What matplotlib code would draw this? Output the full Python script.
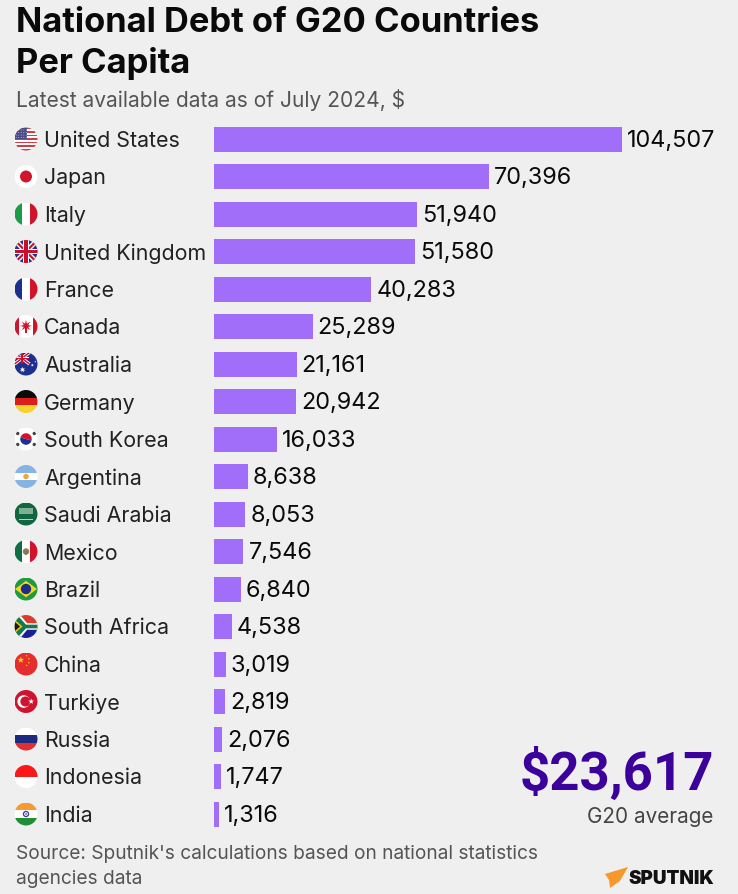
import numpy as np
import matplotlib
matplotlib.use('Agg')
import matplotlib.pyplot as plt
from matplotlib.patches import Circle, Rectangle, Polygon, Wedge
from matplotlib.transforms import Affine2D

countries = ['United States', 'Japan', 'Italy', 'United Kingdom', 'France', 'Canada',
             'Australia', 'Germany', 'South Korea', 'Argentina', 'Saudi Arabia', 'Mexico',
             'Brazil', 'South Africa', 'China', 'Turkiye', 'Russia', 'Indonesia', 'India']
debt = [104507, 70396, 51940, 51580, 40283, 25289, 21161, 20942, 16033, 8638,
        8053, 7546, 6840, 4538, 3019, 2819, 2076, 1747, 1316]
average = 23617

W, H = 738, 894
BG = '#efefef'
plt.rcParams['font.family'] = ['Inter', 'DejaVu Sans']

fig = plt.figure(figsize=(W / 100, H / 100), dpi=100, facecolor=BG)

# Bars: axes placed so that 0 is at x=214px and the maximum at x=622px
row_h = 37.5
top = 139 - row_h / 2
ax = fig.add_axes([214 / W, 1 - (top + row_h * 19) / H, (622 - 214) / W, row_h * 19 / H])
ax.set_facecolor('none')
ax.barh(range(19), debt, height=25 / row_h, color='#a06ef9', linewidth=0)
ax.set_xlim(0, max(debt))
ax.set_ylim(18.5, -0.5)
ax.axis('off')
for i, v in enumerate(debt):
    ax.annotate(f'{v:,}', (v, i), xytext=(3.6, -1.4), textcoords='offset points', va='center',
                ha='left', fontsize=16.9, color='#0a0a0a', annotation_clip=False)

# Overlay in pixel coordinates for text and flags
ov = fig.add_axes([0, 0, 1, 1])
ov.set_xlim(0, W)
ov.set_ylim(H, 0)
ov.axis('off')
ov.patch.set_alpha(0)


def star(cx, cy, r, n=5, rot=90):
    a = np.radians(rot + np.arange(2 * n) * 180 / n)
    rr = np.where(np.arange(2 * n) % 2 == 0, r, r * 0.4)
    return np.c_[cx + rr * np.cos(a), cy + rr * np.sin(a)]


class Flag:
    def __init__(self, cy):
        self.tr = Affine2D().scale(11.5, -11.5).translate(26, cy) + ov.transData
        self.clip = Circle((0, 0), 1, transform=self.tr, fc='none', ec='none')
        ov.add_patch(self.clip)

    def add(self, p):
        p.set_transform(self.tr)
        p.set_linewidth(0)
        ov.add_patch(p)
        p.set_clip_path(self.clip)

    def rect(self, x0, y0, x1, y1, c):
        self.add(Rectangle((x0, y0), x1 - x0, y1 - y0, fc=c))

    def poly(self, pts, c):
        self.add(Polygon(pts, closed=True, fc=c))

    def circ(self, x, y, r, c):
        self.add(Circle((x, y), r, fc=c))

    def hstripes(self, colors):
        e = np.linspace(1, -1, len(colors) + 1)
        for k, c in enumerate(colors):
            self.rect(-1, e[k + 1], 1, e[k], c)

    def vstripes(self, colors):
        e = np.linspace(-1, 1, len(colors) + 1)
        for k, c in enumerate(colors):
            self.rect(e[k], -1, e[k + 1], 1, c)

    def union(self, x0, y0, x1, y1, w=0.12, cross=0.2, red='#c8102e'):
        dx, dy = x1 - x0, y1 - y0
        cx, cy = (x0 + x1) / 2, (y0 + y1) / 2
        n = np.hypot(dx, dy)
        for s in (1, -1):
            nx, ny = -s * dy / n, dx / n
            a, b = (x0, y0 if s == 1 else y1), (x1, y1 if s == 1 else y0)
            for col, ww in (('white', w * 1.8), (red, w * 0.8)):
                self.poly([(a[0] + nx * ww, a[1] + ny * ww), (b[0] + nx * ww, b[1] + ny * ww),
                           (b[0] - nx * ww, b[1] - ny * ww), (a[0] - nx * ww, a[1] - ny * ww)], col)
        self.rect(x0, cy - cross, x1, cy + cross, 'white')
        self.rect(cx - cross, y0, cx + cross, y1, 'white')
        self.rect(x0, cy - cross * 0.55, x1, cy + cross * 0.55, red)
        self.rect(cx - cross * 0.55, y0, cx + cross * 0.55, y1, red)


RED = '#d0142c'
NAVY = '#1f2f8f'


def draw_flag(name, cy):
    f = Flag(cy)
    if name == 'United States':
        f.hstripes(['#d23b48', 'white'] * 6 + ['#d23b48'])
        f.rect(-1, 0, 0.1, 1, '#4a4a86')
        for x in np.arange(-0.85, 0.1, 0.22):
            for y in np.arange(0.12, 1, 0.22):
                f.circ(x, y, 0.04, '#d9d9e8')
    elif name == 'Japan':
        f.rect(-1, -1, 1, 1, 'white')
        f.circ(0, 0, 0.52, RED)
    elif name == 'Italy':
        f.vstripes(['#1f9a4a', 'white', RED])
    elif name == 'United Kingdom':
        f.rect(-1, -1, 1, 1, '#27307f')
        f.union(-1, -1, 1, 1, cross=0.24)
    elif name == 'France':
        f.vstripes([NAVY, 'white', RED])
    elif name == 'Canada':
        f.rect(-1, -1, 1, 1, 'white')
        f.rect(-1, -1, -0.58, 1, RED)
        f.rect(0.58, -1, 1, 1, RED)
        f.poly(star(0, 0.05, 0.52, n=8), RED)
        f.rect(-0.05, -0.6, 0.05, -0.1, RED)
    elif name == 'Australia':
        f.rect(-1, -1, 1, 1, '#1f2f8f')
        f.union(-1, 0, 0.3, 1, w=0.08, cross=0.1)
        f.poly(star(-0.3, -0.5, 0.26, n=7), 'white')
        f.poly(star(0.55, -0.1, 0.14, n=7), 'white')
        f.poly(star(0.82, 0.2, 0.09, n=5), 'white')
    elif name == 'Germany':
        f.hstripes(['#0a0a0a', '#dd1c1c', '#f5d327'])
    elif name == 'South Korea':
        f.rect(-1, -1, 1, 1, 'white')
        f.add(Wedge((0, 0), 0.5, -15, 165, fc=RED))
        f.add(Wedge((0, 0), 0.5, 165, 345, fc=NAVY))
        for sx, sy in ((1, 1), (1, -1), (-1, 1), (-1, -1)):
            f.circ(sx * 0.72, sy * 0.48, 0.15, '#444444')
    elif name == 'Argentina':
        f.hstripes(['#85b3e2', 'white', '#85b3e2'])
        f.circ(0, 0, 0.24, '#f0a63c')
    elif name == 'Saudi Arabia':
        f.rect(-1, -1, 1, 1, '#0f6640')
        f.rect(-0.62, 0.02, 0.62, 0.48, '#7fae92')
        f.rect(-0.62, -0.52, 0.62, -0.44, '#b8d2c0')
    elif name == 'Mexico':
        f.vstripes(['#0f6e45', 'white', RED])
        f.circ(0, 0, 0.28, '#9a7a55')
        f.circ(0, -0.12, 0.16, '#5d8a5f')
    elif name == 'Brazil':
        f.rect(-1, -1, 1, 1, '#1f9a3f')
        f.poly([(-0.95, 0), (0, 0.72), (0.95, 0), (0, -0.72)], '#f5d327')
        f.circ(0, 0, 0.45, '#1d2f86')
    elif name == 'South Africa':
        f.rect(-1, 0, 1, 1, '#d83c2a')
        f.rect(-1, -1, 1, 0, '#1c1f9c')
        f.poly([(-1, 1), (-0.5, 1), (0.1, 0.28), (1, 0.28), (1, -0.28), (0.1, -0.28), (-0.5, -1), (-1, -1)], 'white')
        f.poly([(-1, 0.95), (-0.72, 0.95), (0.0, 0.16), (1, 0.16), (1, -0.16), (0.0, -0.16), (-0.72, -0.95), (-1, -0.95)], '#0f7a4c')
        f.poly([(-1, 0.62), (-0.3, 0), (-1, -0.62)], '#f2b71d')
        f.poly([(-1, 0.42), (-0.52, 0), (-1, -0.42)], '#1a1a1a')
    elif name == 'China':
        f.rect(-1, -1, 1, 1, '#e52d2d')
        f.poly(star(-0.45, 0.35, 0.3), '#f9d71c')
        for x, y in ((0.05, 0.72), (0.25, 0.45), (0.25, 0.12), (0.05, -0.12)):
            f.poly(star(x, y, 0.1), '#f9d71c')
    elif name == 'Turkiye':
        f.rect(-1, -1, 1, 1, '#cf1430')
        f.circ(-0.2, 0, 0.55, 'white')
        f.circ(-0.05, 0, 0.44, '#cf1430')
        f.poly(star(0.45, 0, 0.26), 'white')
    elif name == 'Russia':
        f.hstripes(['white', '#1c2b80', '#e12f2f'])
    elif name == 'Indonesia':
        f.hstripes(['#fa1818', 'white'])
    elif name == 'India':
        f.hstripes(['#f79a33', 'white', '#1f8f35'])
        f.circ(0, 0, 0.28, '#4a3f96')
        f.circ(0, 0, 0.16, 'white')
        f.circ(0, 0, 0.07, '#4a3f96')


for i, name in enumerate(countries):
    y = 139 + i * row_h
    draw_flag(name, y)
    ov.text(44, y, name, va='center_baseline', ha='left', fontsize=15.4, color='#222222')

# Titles
ov.text(15.5, 32.5, 'National Debt of G20 Countries', fontsize=24.85, fontweight='bold',
        color='#0a0a0a', va='baseline')
ov.text(15.5, 73, 'Per Capita', fontsize=24.85, fontweight='bold', color='#0a0a0a', va='baseline')
ov.text(15.5, 107, 'Latest available data as of July 2024, $', fontsize=15.1, color='#555555', va='baseline')

# Average callout
ov.text(714, 790, f'${average:,}', fontsize=38, fontweight='bold', family=['Roboto', 'DejaVu Sans'],
        color='#3d019b', ha='right', va='baseline')
ov.text(713, 823, 'G20 average', fontsize=14.9, color='#444444', ha='right', va='baseline')

# Footer
ov.text(15.5, 859, "Source: Sputnik's calculations based on national statistics", fontsize=13.75,
        color='#555555', va='baseline')
ov.text(15.5, 884, 'agencies data', fontsize=13.75, color='#555555', va='baseline')

# Logo
ov.add_patch(Polygon([(605, 874), (628, 867), (620, 881), (610, 888), (609, 880)], closed=True,
                     fc='#f7982a', ec='none'))
ov.text(714.5, 883.5, 'SPUTNIK', fontsize=13.6, fontweight='black', color='#111111', ha='right', va='baseline')

fig.savefig('out.png', dpi=100, facecolor=BG)
